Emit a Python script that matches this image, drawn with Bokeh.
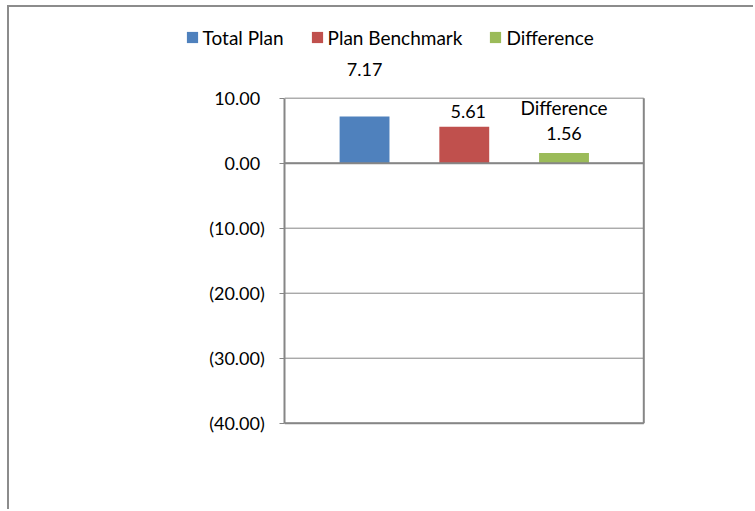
from bokeh.plotting import figure
from bokeh.models import ColumnDataSource, Range1d, FixedTicker, Label
from bokeh.embed import file_html
from bokeh.resources import INLINE

# ---- data ----
series = ["Total Plan", "Plan Benchmark", "Difference"]
values = [7.17, 5.61, 1.56]
value_labels = ["7.17", "5.61", "1.56"]
positions = [1, 2, 3]
tick_values = [-40, -30, -20, -10, 0, 10]
tick_labels = ["(40.00)", "(30.00)", "(20.00)", "(10.00)", "0.00\u00a0", "10.00\u00a0"]

# ---- layout / styles ----
colors = ["#4F81BD", "#C0504D", "#9BBB59"]
FONT = "Lato"
FS = "18px"        # numbers
FS_TXT = "19px"    # words
GRAY = "#868686"
pa_left, pa_right = 0.2, 3.8          # plot-area extent along x
y_lo, y_hi = min(tick_values), max(tick_values)
label_dx = [0, 4, 0]
label_dy = [47, 15, 20]
name_dy = 46

p = figure(width=746, height=504, output_backend="svg", toolbar_location=None,
           x_range=Range1d(-2.56, 4.92), y_range=Range1d(-53.58, 23.95),
           x_axis_type=None, min_border=0,
           min_border_left=0, min_border_right=0,
           min_border_top=0, min_border_bottom=0)
p.styles = {"margin-left": "7px", "margin-top": "5px",
            "border-left": "2px solid #8c8c8c", "border-top": "2px solid #8c8c8c"}

p.background_fill_color = "white"
p.border_fill_color = "white"
p.outline_line_color = None
p.xgrid.visible = False
p.ygrid.visible = False

# gridlines across the plot area, at the axis ticks
grid = ColumnDataSource(dict(x0=[pa_left] * len(tick_values), x1=[pa_right] * len(tick_values),
                             y=tick_values))
p.segment(x0="x0", x1="x1", y0="y", y1="y", source=grid, line_color=GRAY, line_width=1)
# plot-area right and bottom border
p.segment(x0=[pa_right, pa_left], x1=[pa_right, pa_right], y0=[y_lo, y_lo], y1=[y_hi, y_lo],
          line_color=GRAY, line_width=2)

src = ColumnDataSource(dict(x=positions, top=values, name=series, color=colors))
p.vbar(x="x", top="top", width=0.5, fill_color="color", line_color=None,
       source=src, legend_field="name")

# category axis line at zero
p.segment(x0=[pa_left], x1=[pa_right], y0=[0], y1=[0], line_color=GRAY, line_width=2)

ax = p.yaxis[0]
ax.fixed_location = pa_left
ax.bounds = (y_lo, y_hi)
ax.ticker = FixedTicker(ticks=tick_values)
ax.major_label_overrides = dict(zip(tick_values, tick_labels))
ax.axis_line_color = GRAY
ax.axis_line_width = 2
ax.major_tick_out = 5
ax.major_tick_in = 0
ax.major_tick_line_color = GRAY
ax.minor_tick_line_color = None
ax.major_label_standoff = 15
ax.major_label_text_font = FONT
ax.major_label_text_font_size = FS
ax.major_label_text_color = "black"

for x, v, t, dx, dy in zip(positions, values, value_labels, label_dx, label_dy):
    p.add_layout(Label(x=x, y=v, text=t, x_offset=dx, y_offset=dy,
                       text_align="center", text_baseline="middle",
                       text_font=FONT, text_font_size=FS, text_color="black"))
p.add_layout(Label(x=positions[2], y=values[2], text=series[2], y_offset=name_dy,
                   text_align="center", text_baseline="middle",
                   text_font=FONT, text_font_size=FS_TXT, text_color="black"))

leg = p.legend[0]
leg.orientation = "horizontal"
leg.location = (175.6, 462.5)
leg.padding = 0
leg.margin = 0
leg.spacing = 26
leg.glyph_width = 14
leg.glyph_height = 14
leg.label_standoff = 4
leg.label_height = 20
leg.label_text_font = FONT
leg.label_text_font_size = FS_TXT
leg.label_text_color = "black"
leg.border_line_color = None
leg.background_fill_alpha = 0

open("out.html", "w").write(file_html(p, INLINE))
